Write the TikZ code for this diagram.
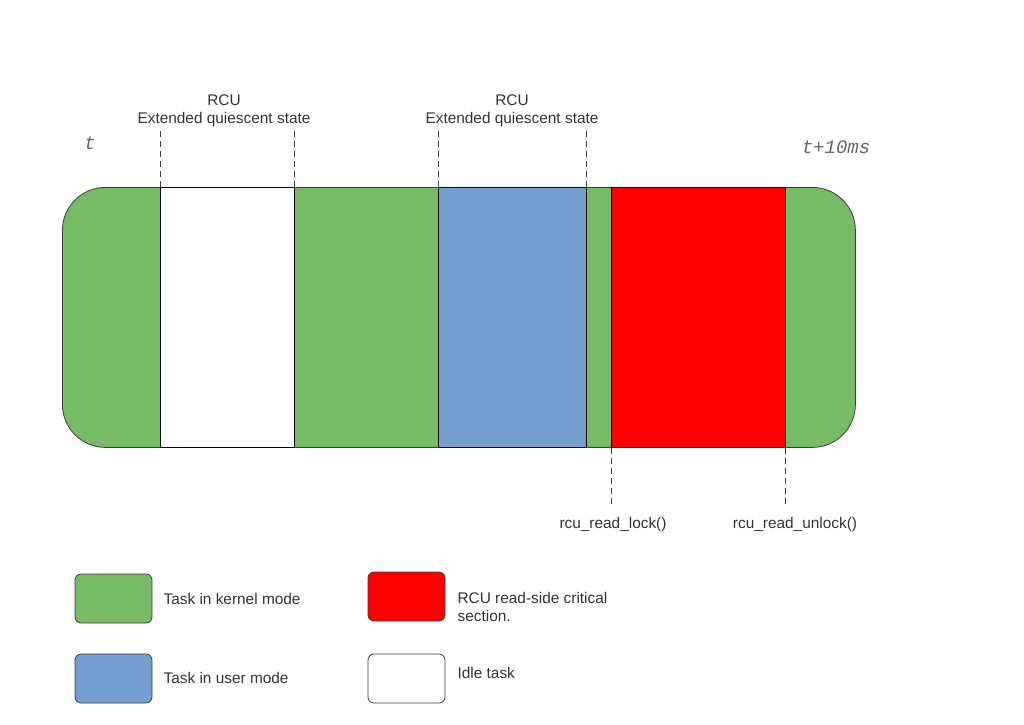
\documentclass[tikz,border=0pt]{standalone}
\usepackage{fontspec}
\setmainfont{Liberation Sans}
\setmonofont{Liberation Mono}
\usetikzlibrary{positioning}
\definecolor{kernelgreen}{HTML}{77BB66}
\definecolor{userblue}{HTML}{729FCF}
\definecolor{readred}{HTML}{FF0000}
\definecolor{textgray}{HTML}{333333}
\definecolor{timegray}{HTML}{666666}
\definecolor{edgegray}{HTML}{3C3C3C}
\tikzset{
  seg/.style={draw=black, line width=0.8pt, minimum height=260pt, inner sep=0pt, anchor=north west},
  keybox/.style={draw=edgegray, rounded corners=6pt, line width=0.8pt, minimum width=77pt, minimum height=49pt, inner sep=0pt},
  lbl/.style={text=textgray, font=\fontsize{15.4}{18}\selectfont, inner sep=0pt, align=center},
  timelbl/.style={text=timegray, font=\fontsize{19}{21}\selectfont\ttfamily\itshape, inner sep=0pt},
  guide/.style={draw=edgegray, dash pattern=on 6pt off 4pt, line width=0.8pt}
}
\begin{document}
\begin{tikzpicture}[x=1pt,y=-1pt]
  \path[use as bounding box] (0,0) rectangle (1024,724);

  % timeline bar
  \node[draw=edgegray, fill=kernelgreen, rounded corners=43pt, minimum width=793pt,
    minimum height=260pt, anchor=north west, inner sep=0pt, line width=0.8pt] (bar) at (62,187) {};
  \node[seg, fill=white, minimum width=134pt] (idle) at (160,187) {};
  \node[seg, fill=userblue, minimum width=148pt] (user) at (438,187) {};
  \node[seg, fill=readred, minimum width=174pt] (crit) at (611,187) {};

  \node[timelbl] (tstart) at (90,143) {t};
  \node[timelbl] (tend) at (836,147) {t+10ms};

  % quiescent states
  \node[lbl] (eqs1) at (224,111) {RCU\\Extended quiescent state};
  \node[lbl] (eqs2) at (512,111) {RCU\\Extended quiescent state};
  \draw[guide] (idle.north west) -- ([yshift=-4pt]eqs1.south -| idle.north west);
  \draw[guide] (idle.north east) -- ([yshift=-4pt]eqs1.south -| idle.north east);
  \draw[guide] (user.north west) -- ([yshift=-4pt]eqs2.south -| user.north west);
  \draw[guide] (user.north east) -- ([yshift=-4pt]eqs2.south -| user.north east);

  % read-side markers
  \node[lbl] (lock) at (613,525) {rcu\_read\_lock()};
  \node[lbl] (unlock) at (795,525) {rcu\_read\_unlock()};
  \draw[guide] (crit.south west) -- ([yshift=12pt]lock.north -| crit.south west);
  \draw[guide] (crit.south east) -- ([yshift=12pt]unlock.north -| crit.south east);

  % legend
  \node[keybox, fill=kernelgreen] (kkey) at (113.5,598.5) {};
  \node[keybox, fill=userblue] (ukey) at (113.5,678.5) {};
  \node[keybox, fill=readred] (rkey) at (406.5,596.5) {};
  \node[keybox, fill=white] (ikey) at (406.5,678.5) {};
  \node[lbl, right=11pt of kkey] (ktext) {Task in kernel mode};
  \node[lbl, right=11pt of ukey, yshift=1pt] (utext) {Task in user mode};
  \node[lbl, align=left, right=12pt of rkey, yshift=-10pt] (rtext) {RCU read-side critical\\section.};
  \node[lbl, right=12pt of ikey, yshift=6pt] (itext) {Idle task};
\end{tikzpicture}
\end{document}
